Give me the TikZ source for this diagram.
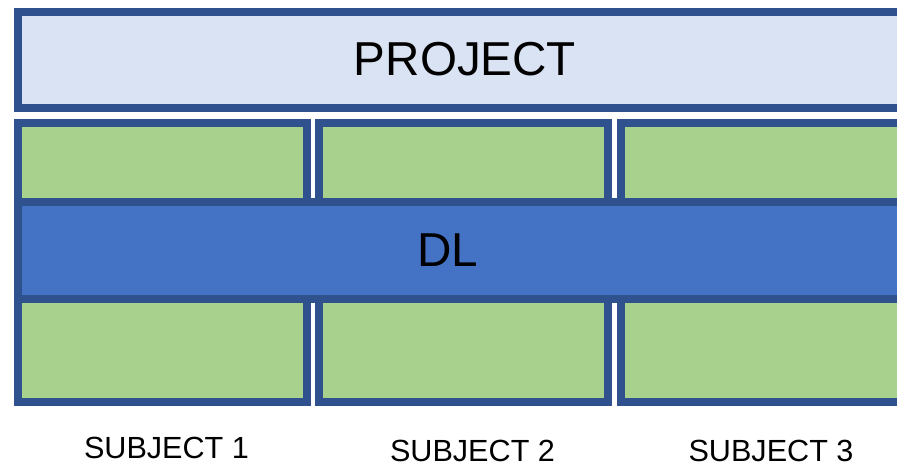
\documentclass[tikz,border=0pt]{standalone}
\usepackage{fontspec}
\setmainfont{Liberation Sans}
\usepackage{tikz}
\usetikzlibrary{positioning}

\definecolor{edgeblue}{HTML}{2F528F}
\definecolor{projfill}{HTML}{DAE3F3}
\definecolor{subjfill}{HTML}{A9D18E}
\definecolor{dlfill}{HTML}{4472C4}

\begin{document}
\begin{tikzpicture}[x=1pt, y=-1pt,
    box/.style={draw=edgeblue, line width=8pt, inner sep=0pt, anchor=center},
    project/.style={box, fill=projfill, minimum width=894pt, minimum height=96pt},
    column/.style={box, fill=subjfill, minimum width=289pt, minimum height=279pt},
    dlbar/.style={box, fill=dlfill, minimum width=894pt, minimum height=97pt},
    bigtext/.style={font=\fontsize{47.6}{56}\selectfont, inner sep=0pt},
    subjlabel/.style={font=\fontsize{30.6}{36}\selectfont, inner sep=0pt}]
    \useasboundingbox (0,0) rectangle (897,467);

    % Project bar on top
    \node[project, bigtext] (proj) at (465,59.5) {PROJECT};

    % One column per subject
    \node[column] (col1) at (162.5,262.5) {};
    \node[column] (col2) at (463.5,262.5) {};
    \node[column] (col3) at (765.5,262.5) {};

    % DL bar across the columns
    \node[dlbar] (dl) at (465,250.5) {};
    \node[bigtext] (dltext) at (448,250) {DL};

    % Subject names below
    \node[subjlabel] (subj1) at (166.5,448) {SUBJECT 1};
    \node[subjlabel] (subj2) at (472.5,451) {SUBJECT 2};
    \node[subjlabel] (subj3) at (771,451) {SUBJECT 3};
\end{tikzpicture}
\end{document}
